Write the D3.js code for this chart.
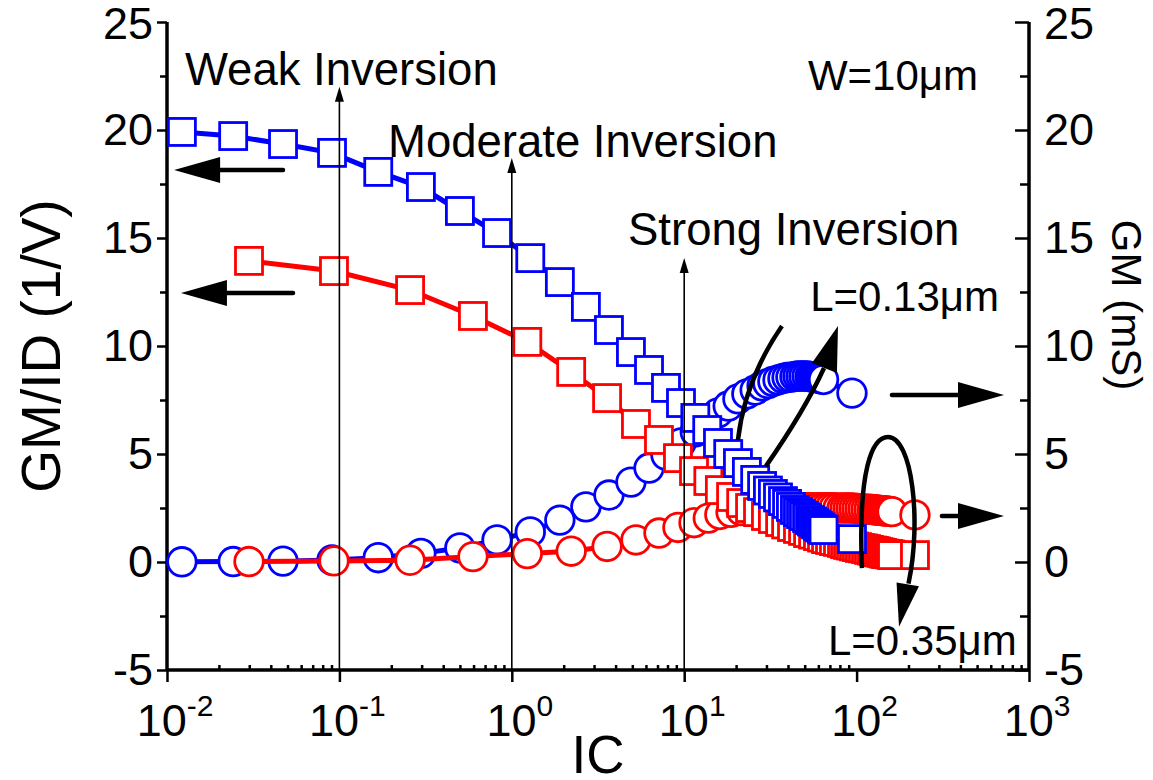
<!DOCTYPE html>
<html><head><meta charset="utf-8">
<script src="https://cdn.jsdelivr.net/npm/d3@7"></script>
<style>
body{margin:0;background:#fff;}
text{font-family:"Liberation Sans",Arial,Helvetica,sans-serif;fill:#000;}
</style></head><body>
<svg id="c" width="1153" height="780"></svg>
<script>
// ---------------- data ----------------
const icL013 = [0.0122,0.0242,0.0471,0.0906,0.168,0.297,0.500,0.821,1.28,1.90,2.69,3.66,4.91,6.25,7.84,9.58,11.6,13.6,15.7,18.0,20.5,23.1,25.8,28.3,30.6,32.7,35.0,37.4,39.5,41.6,43.9,45.7,47.6,49.5,51.6,53.7,55.1,56.6,58.2,59.7,61.3,63.0,64.3,94.0];
const gmidL013 = [19.91,19.72,19.35,18.94,18.06,17.36,16.25,15.23,14.07,12.96,11.81,10.74,9.72,8.89,8.06,7.36,6.67,6.11,5.51,5.00,4.58,4.17,3.80,3.52,3.31,3.15,2.99,2.82,2.69,2.55,2.41,2.31,2.22,2.13,2.04,1.94,1.875,1.81,1.74,1.67,1.60,1.53,1.48,1.06];
const gmL013 = [0.01,0.02,0.04,0.09,0.20,0.40,0.65,1.02,1.39,1.94,2.55,3.10,3.70,4.35,4.95,5.51,6.02,6.48,6.90,7.22,7.55,7.78,7.96,8.15,8.26,8.36,8.43,8.50,8.54,8.56,8.59,8.61,8.61,8.61,8.61,8.59,8.56,8.56,8.54,8.52,8.50,8.47,8.45,7.82];
const icL035 = [0.0299,0.0930,0.257,0.595,1.23,2.21,3.57,5.25,7.14,9.20,11.4,13.8,16.1,18.7,21.4,24.1,26.8,29.8,32.7,36.0,39.0,42.2,45.7,48.9,52.3,55.9,59.7,63.0,66.5,70.1,73.9,78.0,82.3,85.7,89.2,92.8,96.6,100.5,104.6,108.9,113.4,118.0,122.8,126.2,129.6,133.1,136.7,140.4,144.2,148.1,152.1,156.2,160.5,218];
const gmidL035 = [13.94,13.47,12.59,11.39,10.19,8.80,7.59,6.39,5.65,4.81,4.21,3.75,3.33,3.01,2.73,2.50,2.31,2.13,1.99,1.85,1.74,1.62,1.53,1.44,1.34,1.27,1.20,1.13,1.06,1.02,0.97,0.93,0.88,0.83,0.79,0.76,0.72,0.69,0.65,0.63,0.60,0.56,0.53,0.51,0.49,0.46,0.44,0.42,0.39,0.37,0.37,0.35,0.32,0.32];
const gmL035 = [0.02,0.05,0.08,0.25,0.39,0.50,0.72,1.02,1.34,1.60,1.82,2.03,2.20,2.30,2.38,2.43,2.46,2.48,2.50,2.50,2.51,2.51,2.51,2.51,2.51,2.51,2.51,2.51,2.51,2.51,2.51,2.50,2.50,2.50,2.50,2.50,2.49,2.48,2.47,2.46,2.45,2.44,2.43,2.42,2.41,2.40,2.39,2.38,2.37,2.36,2.35,2.34,2.33,2.18];

const xTicks = [0.01,0.1,1,10,100,1000];
const xTickExp = ["-2","-1","0","1","2","3"];
const yTicks = [-5,0,5,10,15,20,25];
const yMinor = [-2.5,2.5,7.5,12.5,17.5,22.5];

// annotations (data units)
const regionLines = [{ic:0.1,top:22.0,label:"Weak Inversion",lx:0.01271,ly:22.08},
                     {ic:1,top:18.7,label:"Moderate Inversion",lx:0.1914,ly:18.75},
                     {ic:10,top:14.07,label:"Strong Inversion",lx:4.72,ly:14.68}];
const leftArrows = [{x0:0.0471,x1:0.0110,y:18.15},{x0:0.0538,x1:0.01205,y:12.45}];
const rightArrows = [{x0:160.3,x1:716,y:7.73},{x0:312.6,x1:716,y:2.13}];
const notes = [{t:"W=10\u03bcm",x:52.2,y:21.85},{t:"L=0.13\u03bcm",x:53.8,y:11.62},{t:"L=0.35\u03bcm",x:68.2,y:-4.31}];

// ---------------- chart ----------------
const svg = d3.select("#c");
const m = {left:167,right:1029,top:22,bottom:670};
const x = d3.scaleLog().domain([0.01,1000]).range([m.left,m.right]);
const yL = d3.scaleLinear().domain([-5,25]).range([m.bottom,m.top]);
const yR = d3.scaleLinear().domain([-5,25]).range([m.bottom,m.top]);
const BLUE="#0000ff", RED="#ff0000";

// axes
const fs = 45;
const gL = svg.append("g").attr("transform",`translate(${m.left},0)`)
  .call(d3.axisLeft(yL).tickValues(yTicks).tickSize(10).tickPadding(4).tickFormat(d=>String(d)));
gL.append("g").call(d3.axisLeft(yL).tickValues(yMinor).tickSize(7).tickFormat(""));
const gR = svg.append("g").attr("transform",`translate(${m.right},0)`)
  .call(d3.axisRight(yR).tickValues(yTicks).tickSize(-14).tickPadding(15).tickFormat(d=>String(d)));
gR.append("g").call(d3.axisRight(yR).tickValues(yMinor).tickSize(-9).tickFormat(""));
const minorX = [];
for (let e=-2;e<3;e++) for (let k=2;k<10;k++) minorX.push(k*Math.pow(10,e));
const gB = svg.append("g").attr("transform",`translate(0,${m.bottom})`)
  .call(d3.axisBottom(x).tickValues(xTicks).tickSize(12).tickFormat(""));
gB.append("g").call(d3.axisBottom(x).tickValues(minorX).tickSize(-5).tickFormat(""));
[gL,gR,gB].forEach(g=>{
  g.selectAll(".domain").attr("stroke","#000").attr("stroke-width",3.5);
  g.selectAll(".tick line").attr("stroke","#000").attr("stroke-width",2.5);
  g.selectAll("text").attr("font-family","Liberation Sans, Arial, sans-serif").attr("font-size",fs).attr("fill","#000");
});
gL.selectAll(".domain").attr("d",`M0,${m.bottom}V${m.top}`);
gR.selectAll(".domain").attr("d",`M0,${m.bottom}V${m.top}`);
gB.selectAll(".domain").attr("d",`M${m.left},0H${m.right}`);
gB.selectAll("g g .domain").remove();
gL.selectAll("g g .domain").remove();
gR.selectAll("g g .domain").remove();
gL.selectAll(".tick text").filter(d=>d===25).attr("dy","0.36em");
gR.selectAll(".tick text").filter(d=>d===25).attr("dy","0.36em");

// x tick labels with superscripts
xTicks.forEach((d,i)=>{
  const t = svg.append("text").attr("x",x(d)+8).attr("y",m.bottom+66)
    .attr("text-anchor","middle").attr("font-size",fs);
  t.append("tspan").text("10");
  t.append("tspan").attr("font-size",30).attr("dy",-20).text(xTickExp[i]);
});

// axis titles
svg.append("text").attr("transform",`translate(60,${(m.top+m.bottom)/2}) rotate(-90)`)
  .attr("text-anchor","middle").attr("font-size",55).text("GM/ID (1/V)");
svg.append("text").attr("transform",`translate(1112,${305}) rotate(90)`)
  .attr("text-anchor","middle").attr("font-size",42).text("GM (mS)");
svg.append("text").attr("x",(m.left+m.right)/2).attr("y",773)
  .attr("text-anchor","middle").attr("font-size",53).text("IC");

// series
function series(ic, vals, y, color, shape){
  const pts = ic.map((d,i)=>[x(d), y(vals[i])]);
  svg.append("path").attr("d",d3.line()(pts)).attr("fill","none")
    .attr("stroke",color).attr("stroke-width",5);
  const g = svg.append("g");
  if (shape==="sq"){
    g.selectAll("rect").data(pts).join("rect")
      .attr("x",d=>d[0]-13.5).attr("y",d=>d[1]-13.5).attr("width",27).attr("height",27)
      .attr("fill","#fff").attr("stroke",color).attr("stroke-width",2.8);
  } else {
    g.selectAll("circle").data(pts).join("circle")
      .attr("cx",d=>d[0]).attr("cy",d=>d[1]).attr("r",14.3)
      .attr("fill","#fff").attr("stroke",color).attr("stroke-width",2.8);
  }
}
series(icL013, gmL013, yR, BLUE, "ci");
series(icL035, gmL035, yR, RED, "ci");
series(icL035, gmidL035, yL, RED, "sq");
series(icL013, gmidL013, yL, BLUE, "sq");

// region lines with small arrowheads
regionLines.forEach(r=>{
  const px = x(r.ic), top = yL(r.top);
  svg.append("line").attr("x1",px).attr("x2",px).attr("y1",m.bottom).attr("y2",top+10)
    .attr("stroke","#000").attr("stroke-width",1.6);
  svg.append("path").attr("d",`M${px},${top}L${px-4.5},${top+15}L${px+4.5},${top+15}Z`).attr("fill","#000");
  svg.append("text").attr("x",x(r.lx)).attr("y",yL(r.ly)).attr("font-size",45.5).text(r.label);
});

// straight arrows
function hArrow(x0,x1,yv){
  const a = x(x0), b = x(x1), yy = yL(yv), dir = Math.sign(b-a);
  const hb = b - dir*46;
  svg.append("line").attr("x1",a).attr("x2",hb+dir*2).attr("y1",yy).attr("y2",yy)
    .attr("stroke","#000").attr("stroke-width",4.5).attr("stroke-linecap","round");
  svg.append("path").attr("d",`M${b},${yy}L${hb},${yy-13}L${hb},${yy+13}Z`).attr("fill","#000");
}
leftArrows.forEach(a=>hArrow(a.x0,a.x1,a.y));
rightArrows.forEach(a=>hArrow(a.x0,a.x1,a.y));

// curved annotations
const P = (ic,v)=>`${x(ic)},${yL(v)}`;
svg.append("path").attr("d",`M${P(36.9,10.93)}Q${P(22.5,8.43)} ${P(20.5,5.65)}`)
  .attr("fill","none").attr("stroke","#000").attr("stroke-width",4.5);
svg.append("path").attr("d",`M${P(29.8,4.44)}Q${P(50.2,7.04)} ${P(64.7,8.98)}`)
  .attr("fill","none").attr("stroke","#000").attr("stroke-width",4.5);
svg.append("path").attr("d",`M${P(78.0,10.93)}L${P(55.1,9.21)}L${P(76.9,8.75)}Z`).attr("fill","#000");
svg.append("path").attr("d",`M${P(107.4,-0.28)}C${P(101.9,4.26)} ${P(122.7,5.79)} ${P(152.1,5.79)}C${P(209.4,5.79)} ${P(239.3,1.94)} ${P(200,-1.0)}`)
  .attr("fill","none").attr("stroke","#000").attr("stroke-width",4.5);
svg.append("path").attr("d",`M${P(176.2,-3.0)}L${P(170.5,-0.95)}L${P(230,-1.12)}Z`).attr("fill","#000");

notes.forEach(n=>{
  svg.append("text").attr("x",x(n.x)).attr("y",yL(n.y)).attr("font-size",42).text(n.t);
});
</script>
</body></html>
